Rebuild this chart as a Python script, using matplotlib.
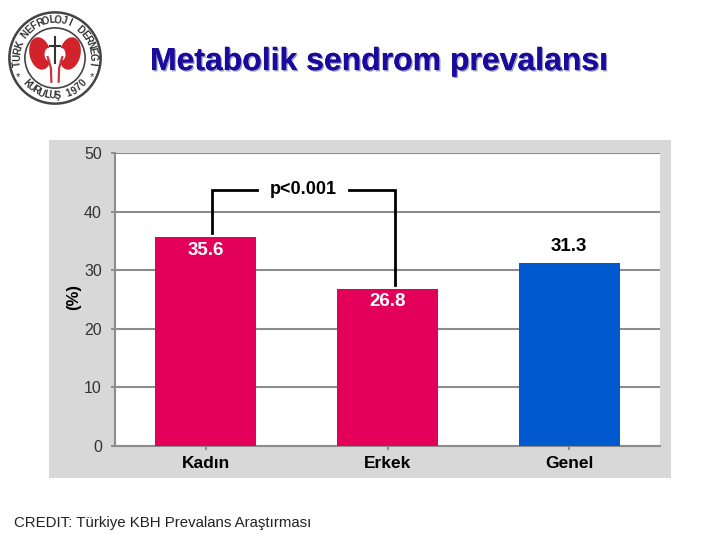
import numpy as np
import matplotlib
matplotlib.use("Agg")
import matplotlib.pyplot as plt
from matplotlib.patches import Circle, Rectangle, Ellipse
from matplotlib.lines import Line2D
import matplotlib.patheffects as pe

categories = ["Kadın", "Erkek", "Genel"]
values = [35.6, 26.8, 31.3]
value_labels = ["35.6", "26.8", "31.3"]
yticks = [0, 10, 20, 30, 40, 50]
title = "Metabolik sendrom prevalansı"
credit = "CREDIT: Türkiye KBH Prevalans Araştırması"
ptext = "p<0.001"
ylabel = "(%)"
logo_top = "TÜRK NEFROLOJİ DERNEĞİ"
logo_bottom = "KURULUŞ 1970"

PINK = "#E2005A"
BLUE = "#0059CF"
GRID = "#8C8C8C"
W, H = 720, 540

plt.rcParams["font.family"] = ["Liberation Sans", "DejaVu Sans"]
fig = plt.figure(figsize=(7.2, 5.4), dpi=100, facecolor="white")

def fx(x): return x / W
def fy(y): return 1 - y / H

# grey chart panel
fig.patches.append(Rectangle((fx(49), fy(478)), 622 / W, 338 / H, transform=fig.transFigure,
                             facecolor="#D8D8D8", edgecolor="none", zorder=0))

ax = fig.add_axes([fx(115), fy(446), 545 / W, 293 / H], facecolor="white", zorder=1)
x = np.arange(len(categories))
colors = [PINK, PINK, BLUE]
ax.bar(x, values, width=0.555, color=colors, zorder=3)
ax.set_xlim(-0.5, 2.5)
ax.set_ylim(0, 50)
ax.set_yticks(yticks)
ax.set_xticks(x)
ax.set_xticklabels(categories, fontsize=12.5, fontweight="bold", color="black")
ax.tick_params(axis="x", length=3, width=1.4, color=GRID, pad=4)
ax.tick_params(axis="y", length=3, width=1.4, color=GRID, labelsize=11.5, labelcolor="#333333", pad=6.5)
ax.grid(axis="y", color=GRID, lw=1.5, zorder=1)
ax.set_axisbelow(True)
for s in ["top", "right"]:
    ax.spines[s].set_visible(False)
for s in ["left", "bottom"]:
    ax.spines[s].set_color(GRID)
    ax.spines[s].set_linewidth(1.5)

# value labels
ax.text(x[0], values[0] - 0.85, value_labels[0], color="white", fontsize=13.5, fontweight="bold", ha="center", va="top", zorder=5)
ax.text(x[1], values[1] - 0.75, value_labels[1], color="white", fontsize=13.5, fontweight="bold", ha="center", va="top", zorder=5)
ax.text(x[2], values[2] + 1.3, value_labels[2], color="black", fontsize=13.5, fontweight="bold", ha="center", va="bottom", zorder=5)

# significance bracket
for xs, ys in [([212, 212, 257], [233, 190, 190]), ([349, 395, 395], [190, 190, 285])]:
    fig.add_artist(Line2D([fx(v) for v in xs], [fy(v) for v in ys], color="black", lw=2.0,
                          solid_joinstyle="miter", zorder=6))
fig.text(fx(303.5), fy(190), ptext, fontsize=13, fontweight="bold", ha="center", va="center", zorder=6)
fig.text(fx(74), fy(297), ylabel, fontsize=12, fontweight="bold", rotation=90, ha="center", va="center", zorder=6)

# title with shadow
fig.text(fx(379), fy(62), title, fontsize=23, fontweight="bold", color="#1B0A9C", ha="center", va="center",
         path_effects=[pe.withSimplePatchShadow(offset=(1.0, -1.0), shadow_rgbFace="#8A90BC", alpha=0.9), pe.Normal()])

# credit
fig.text(fx(14), fy(523), credit, fontsize=10.8, color="#222222", ha="left", va="center")

# logo
la = fig.add_axes([fx(8), fy(105), 94 / W, 94 / H], zorder=2)
la.set_xlim(-1.03, 1.03)
la.set_ylim(-1.03, 1.03)
la.axis("off")
la.add_patch(Circle((0, 0), 1.0, fc="white", ec="#444444", lw=1.8))
la.add_patch(Circle((0, 0), 0.66, fc="white", ec="#444444", lw=1.2))

def arc_text(s, a0, a1, r, flip=False):
    for ch, a in zip(s, np.linspace(a0, a1, len(s))):
        rad = np.deg2rad(a)
        rot = a + 90 if flip else a - 90
        la.text(r * np.cos(rad), r * np.sin(rad), ch, fontsize=7, fontweight="bold", color="#333333",
                rotation=rot, rotation_mode="anchor", ha="center", va="center")

arc_text(logo_top, 188, -8, 0.83)
arc_text(logo_bottom, 222, 318, 0.83, flip=True)
la.text(-0.82, -0.42, "*", fontsize=8, color="#333333", ha="center", va="center")
la.text(0.82, -0.42, "*", fontsize=8, color="#333333", ha="center", va="center")
for sx in (-1, 1):
    la.add_patch(Ellipse((sx * 0.33, 0.10), 0.46, 0.72, angle=sx * -12, fc="#D2232A", ec="none"))
    la.add_patch(Ellipse((sx * 0.14, 0.08), 0.18, 0.28, fc="white", ec="none"))
    la.plot([sx * 0.16, sx * 0.09, sx * 0.08], [0.02, -0.22, -0.52], color="#C8343A", lw=1.6)
la.plot([0, 0], [-0.1, 0.45], color="#333333", lw=1.5)
la.plot([-0.12, 0.12], [0.27, 0.27], color="#333333", lw=1.5)

fig.savefig("out.png", dpi=100)
